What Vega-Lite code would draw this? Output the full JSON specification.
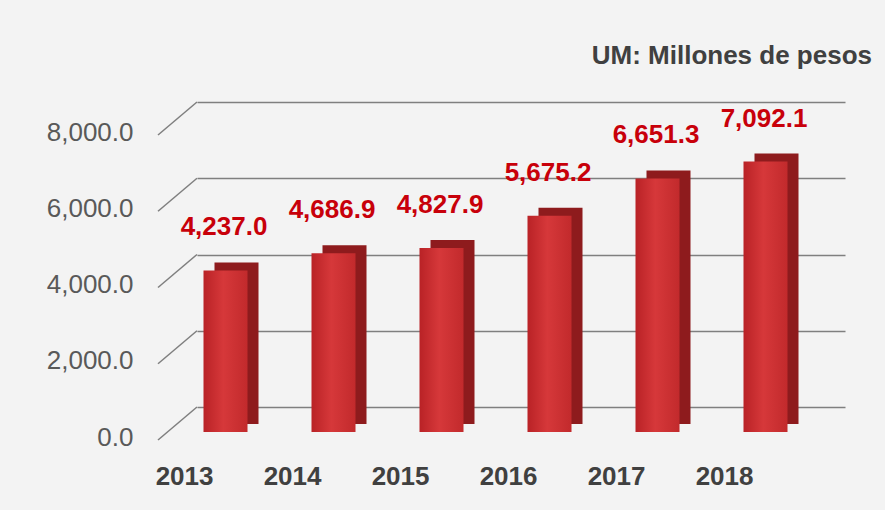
{
  "$schema": "https://vega.github.io/schema/vega-lite/v6.json",
  "width": 648,
  "height": 305,
  "autosize": {"type": "none"},
  "padding": {"left": 197, "top": 102, "right": 40, "bottom": 103},
  "background": "#f3f3f3",
  "config": {"view": {"stroke": null}},
  "title": {
    "text": "UM: Millones de pesos",
    "anchor": "end",
    "font": "Liberation Sans",
    "fontSize": 26,
    "fontWeight": "bold",
    "color": "#404040",
    "baseline": "alphabetic",
    "offset": 11,
    "dx": 27
  },
  "datasets": {
    "bars": [
      {"year": "2013", "value": 4237.0},
      {"year": "2014", "value": 4686.9},
      {"year": "2015", "value": 4827.9},
      {"year": "2016", "value": 5675.2},
      {"year": "2017", "value": 6651.3},
      {"year": "2018", "value": 7092.1}
    ],
    "grid": [{"v": 0}, {"v": 2000}, {"v": 4000}, {"v": 6000}, {"v": 8000}]
  },
  "layer": [
    {
      "data": {"name": "grid"},
      "mark": {"type": "rule", "color": "#7f7f7f", "strokeWidth": 1.5, "x2Offset": -93, "y2Offset": 33},
      "encoding": {
        "x": {"datum": "2013", "type": "ordinal", "bandPosition": 0},
        "x2": {"datum": "2013"},
        "y": {"field": "v", "type": "quantitative"},
        "y2": {"field": "v"}
      }
    },
    {
      "data": {"name": "bars"},
      "mark": {"type": "bar", "width": 44, "xOffset": -14.5, "yOffset": 17, "y2Offset": 17, "color": "#8e1b1d"},
      "encoding": {
        "x": {
          "field": "year",
          "type": "ordinal",
          "scale": {"paddingInner": 0, "paddingOuter": 0},
          "axis": {
            "domain": false,
            "ticks": false,
            "labelAngle": 0,
            "labelOffset": -37.5,
            "labelPadding": 69,
            "labelFontSize": 26,
            "labelFont": "Liberation Sans",
            "labelFontWeight": "bold",
            "labelColor": "#404040",
            "title": null
          }
        },
        "y": {
          "field": "value",
          "type": "quantitative",
          "scale": {"domain": [0, 8000], "nice": false},
          "axis": {
            "values": [0, 2000, 4000, 6000, 8000],
            "format": ",.1f",
            "grid": true,
            "gridColor": "#7f7f7f",
            "gridWidth": 1.5,
            "domain": false,
            "ticks": false,
            "labelOffset": 30,
            "labelPadding": 64,
            "labelFontSize": 26,
            "labelFont": "Liberation Sans",
            "labelColor": "#595959",
            "title": null
          }
        }
      }
    },
    {
      "data": {"name": "bars"},
      "mark": {
        "type": "bar",
        "width": 44,
        "xOffset": -25.5,
        "yOffset": 25,
        "y2Offset": 25,
        "color": {
          "gradient": "linear",
          "x1": 0, "y1": 0, "x2": 1, "y2": 0,
          "stops": [
            {"offset": 0, "color": "#b92226"},
            {"offset": 0.45, "color": "#d6383a"},
            {"offset": 1, "color": "#c22a2c"}
          ]
        }
      },
      "encoding": {
        "x": {"field": "year", "type": "ordinal"},
        "y": {"field": "value", "type": "quantitative"}
      }
    },
    {
      "data": {"name": "bars"},
      "mark": {
        "type": "text",
        "xOffset": -27,
        "yOffset": -18,
        "baseline": "middle",
        "font": "Liberation Sans",
        "fontSize": 26,
        "fontWeight": "bold",
        "color": "#c8000a"
      },
      "encoding": {
        "x": {"field": "year", "type": "ordinal"},
        "y": {"field": "value", "type": "quantitative"},
        "text": {"field": "value", "type": "quantitative", "format": ",.1f"}
      }
    }
  ]
}
